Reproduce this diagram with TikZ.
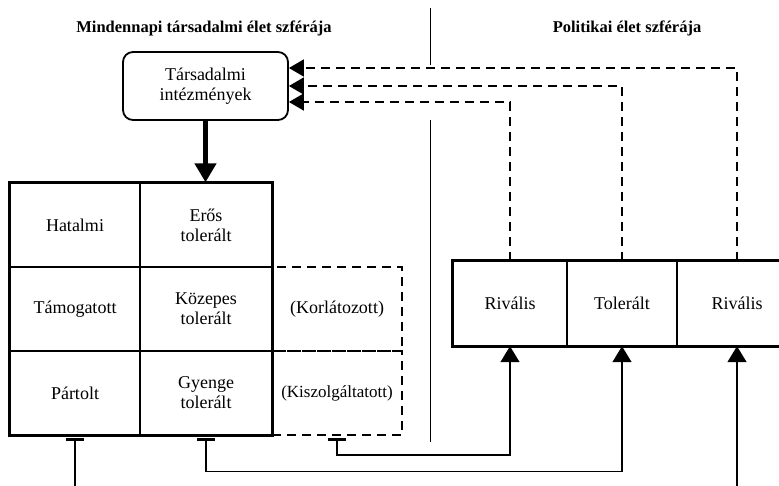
\documentclass[tikz,border=0pt]{standalone}
\usepackage{fontspec}
\setmainfont{Liberation Serif}
\usetikzlibrary{arrows.meta}

\tikzset{
  txt/.style={font=\fontsize{18}{20}\selectfont},
  title/.style={font=\fontsize{16.5}{19}\selectfont\bfseries},
  cell/.style={txt, draw, line width=1.4pt, minimum width=#1, minimum height=84pt, align=center, inner sep=0pt},
  dcell/.style={cell=130pt, dashed, dash pattern=on 9pt off 6pt, line width=1.8pt},
  small/.style={font=\fontsize{17}{20}\selectfont},
  inst/.style={txt, draw, line width=1.8pt, rounded corners=10pt, minimum width=165pt, minimum height=68pt, align=center},
  frame/.style={line width=2.8pt},
  arr/.style={-{Triangle[length=16pt,width=19pt]}},
  bararr/.style={{Bar[width=18pt,line width=3.5pt]}-{Triangle[length=16pt,width=19pt]}},
  baronly/.style={{Bar[width=18pt,line width=3.5pt]}-},
  dasharr/.style={-{Triangle[length=15pt,width=17pt]}, line width=1.8pt, dash pattern=on 9pt off 6pt},
  bigarr/.style={-{Triangle[length=19pt,width=21pt]}, line width=4.5pt},
  link/.style={line width=1.5pt}
}

\begin{document}
\begin{tikzpicture}[x=1pt,y=-1pt]
    \useasboundingbox (0,0) rectangle (779,485);
    \node[title] (t1) at (204,28) {Mindennapi társadalmi élet szférája};
    \node[title] (t2) at (627,28) {Politikai élet szférája};
    \draw[line width=0.8pt] (430,8) -- (430,65);
    \draw[line width=0.8pt] (430,120) -- (430,442);

    \node[inst] (inst) at (205.5,86) {Társadalmi\\intézmények};

    \node[cell=130pt] (hat) at (75,225) {Hatalmi};
    \node[cell=132pt] (eros) at (206,225) {Erős\\tolerált};
    \node[cell=130pt] (tam) at (75,309) {Támogatott};
    \node[cell=132pt] (koz) at (206,309) {Közepes\\tolerált};
    \node[cell=130pt] (par) at (75,393) {Pártolt};
    \node[cell=132pt] (gye) at (206,393) {Gyenge\\tolerált};
    \node[dcell] (korl) at (337,309) {(Korlátozott)};
    \node[dcell,small] (kisz) at (337,393) {(Kiszolgáltatott)};
    \draw[frame] (hat.north west) rectangle (gye.south east);

    \node[cell=114pt] (riv1) at (510,303.5) {Rivális};
    \node[cell=110pt] (tol) at (622,303.5) {Tolerált};
    \node[cell=120pt] (riv2) at (737,303.5) {Rivális};
    \draw[frame] (riv1.north west) rectangle (riv2.south east);

    \draw[bigarr] (inst.south) -- (inst.south |- eros.north);
    \draw[dasharr] (riv1.north) |- ([yshift=-16pt]inst.east);
    \draw[dasharr] (tol.north) |- (inst.east);
    \draw[dasharr] (riv2.north) |- ([yshift=18pt]inst.east);

    \coordinate (o1) at (75,490);
    \coordinate (o2) at (737,490);
    \draw[link,baronly] ([yshift=-2pt]par.south) -- (o1);
    \draw[link,bararr] ([yshift=-2pt]gye.south) -- ++(0,34) -| (tol.south);
    \draw[link,bararr] ([yshift=-2pt]kisz.south) -- ++(0,17) -| (riv1.south);
    \draw[link,arr] (o2) -- (riv2.south);
\end{tikzpicture}
\end{document}
